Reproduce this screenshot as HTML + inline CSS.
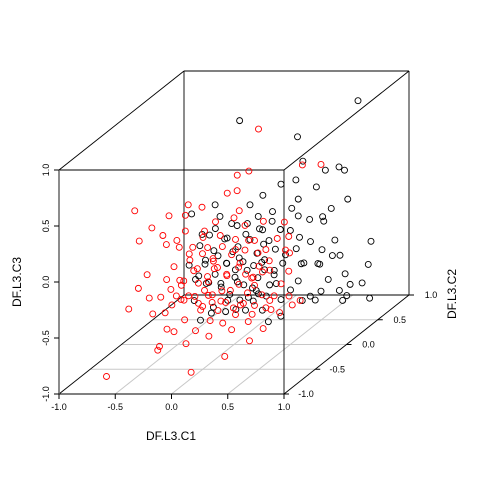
<!DOCTYPE html>
<html><head><meta charset="utf-8"><style>
html,body{margin:0;padding:0;background:#fff;}
svg text{font-family:"Liberation Sans",sans-serif;}
</style></head><body>
<svg id="chart" width="480" height="480" viewBox="0 0 480 480" xmlns="http://www.w3.org/2000/svg">
<g id="grid"></g>
<g id="box"></g>
<g id="axes"></g>
<g id="pts"></g>
<text x="171" y="440" font-size="12" text-anchor="middle">DF.L3.C1</text>
<text x="21" y="282" font-size="12" text-anchor="middle" transform="rotate(-90 21 282)">DF.L3.C3</text>
<text x="456" y="294" font-size="12" text-anchor="middle" transform="rotate(-90 456 294)">DF.L3.C2</text>
</svg>
<script>
const xTicks=[-1.0,-0.5,0.0,0.5,1.0];
const yTicks=[-1.0,-0.5,0.0,0.5,1.0];
const zTicks=[-1.0,-0.5,0.0,0.5,1.0];
const tickLabels=["-1.0","-0.5","0.0","0.5","1.0"];
const blackX=[0.88,-0.20,0.37,0.39,0.70,0.80,0.76,0.62,0.35,0.51,0.19,0.04,-0.08,-0.12,0.01,0.12,0.28,0.36,0.45,0.56,0.68,0.72,0.63,0.48,0.36,0.32,0.41,0.54,0.61,0.72,0.81,0.90,1.00,0.78,0.54,0.36,0.28,0.45,0.14,0.05,-0.04,-0.12,-0.21,-0.30,-0.39,-0.48,-0.57,-0.52,-0.44,-0.30,-0.17,-0.08,0.03,0.10,0.19,0.23,0.10,-0.01,-0.08,-0.17,-0.26,-0.35,-0.04,0.03,0.19,-0.57,-0.52,-0.44,-0.28,-0.12,0.20,0.29,0.56,0.76,0.39,0.50,0.01,-0.21,-0.39,-0.48,-0.61,0.05,0.14,-0.10,-0.17,-0.26,-0.33,-0.39,-0.61,0.36,0.59,
-0.45,-0.36,-0.25,-0.15,-0.05,0.06,0.15,-0.42,-0.32,-0.22,-0.12,-0.02,0.08,0.18,-0.48,-0.38,-0.28,-0.18,-0.08,0.02,0.12,0.22,-0.35,-0.25,-0.15,-0.05,0.05,0.15,0.25,0.32,0.44,0.52,0.66,0.86,0.94];
const blackZ=[1.00,0.80,0.70,0.46,0.40,0.13,0.38,0.02,0.31,0.23,0.25,0.16,0.07,-0.11,-0.02,0.01,0.03,-0.02,-0.06,-0.04,-0.24,-0.38,-0.40,-0.24,-0.22,-0.33,-0.44,-0.46,-0.60,-0.69,-0.64,-0.64,-0.75,-0.74,-0.71,-0.60,-0.69,-0.75,-0.55,-0.42,-0.38,-0.42,-0.51,-0.46,-0.33,-0.46,-0.60,-0.29,-0.20,-0.24,-0.29,-0.24,-0.29,-0.24,-0.15,-0.38,-0.64,-0.58,-0.69,-0.60,-0.73,-0.64,-0.78,-0.87,-0.78,-0.78,-0.96,-0.91,-0.87,-0.87,-0.46,-0.15,-0.33,-0.55,-0.78,-0.78,-0.17,-0.33,-0.55,-0.64,-0.46,-0.51,-0.33,-0.51,-0.78,-0.11,-0.02,0.07,-0.02,0.13,0.38,
-0.15,-0.12,-0.19,-0.08,-0.14,-0.10,-0.05,-0.38,-0.35,-0.40,-0.36,-0.45,-0.40,-0.48,-0.52,-0.57,-0.62,-0.55,-0.60,-0.66,-0.70,-0.58,-0.80,-0.76,-0.82,-0.72,-0.68,-0.92,-0.88,-0.50,-0.52,-0.12,-0.85,-0.55,-0.30];
const blackY=[0.4,0.45,0.35,0.4,0.42,0.38,0.4,0.44,0.36,0.4,0.41,0.39,0.4,0.43,0.37,0.4,0.42,0.38,0.4,0.41,0.39,0.4,0.44,0.36,0.4,0.42,0.38,0.4,0.41,0.39,0.4,0.43,0.37,0.4,0.42,0.38,0.4,0.41,0.39,0.4,0.44,0.36,0.4,0.42,0.38,0.4,0.41,0.39,0.4,0.43,0.37,0.4,0.42,0.38,0.4,0.41,0.39,0.4,0.44,0.36,0.4,0.42,0.38,0.4,0.41,0.39,0.4,0.43,0.37,0.4,0.42,0.38,0.4,0.41,0.39,0.4,0.44,0.36,0.4,0.42,0.38,0.4,0.41,0.39,0.4,0.43,0.37,0.4,0.42,0.38,0.4,
0.3,0.35,0.3,0.32,0.28,0.3,0.34,0.3,0.32,0.28,0.3,0.35,0.3,0.32,0.3,0.28,0.3,0.34,0.3,0.32,0.3,0.28,0.3,0.35,0.3,0.32,0.3,0.28,0.3,0.5,0.55,0.5,0.55,0.6,0.5];
const redX=[-0.66,-0.90,-0.17,-0.44,-0.45,-0.21,0.14,-0.20,-0.73,-0.39,-0.52,-0.35,-0.29,-0.12,-0.08,0.01,0.05,0.10,0.28,0.36,0.47,0.54,0.41,0.32,0.19,0.01,-0.12,-0.26,-0.30,-0.39,-0.41,-0.35,-0.19,-0.21,-0.04,0.14,0.25,0.28,0.24,0.44,0.36,0.99,0.83,0.50,0.59,0.68,0.72,0.63,0.81,0.45,0.23,0.10,0.01,-0.08,-0.17,0.05,0.19,0.32,0.41,0.50,0.54,0.28,0.14,-0.04,-0.17,-0.26,-0.33,-0.24,-0.10,0.03,0.17,0.32,0.47,0.59,0.70,0.74,0.41,0.23,0.08,-0.04,-0.39,-0.12,0.01,0.19,-0.21,-0.28,-0.15,-0.04,0.08,0.20,0.32,-0.30,0.54,0.36,0.12,0.26,0.38,-0.36,0.03,0.67,0.72,-0.44,
-0.28,-0.18,-0.08,0.02,0.12,0.22,0.32,0.42,-0.25,-0.15,-0.05,0.05,0.15,0.25,0.35,0.45,-0.32,-0.22,-0.12,-0.02,0.08,0.18,0.28,0.38,0.48,-0.55,-0.62,-0.48,0.60,0.66,-0.60,-0.50];
const redZ=[0.37,-1.10,-1.08,-0.84,-0.87,-0.82,-0.93,-0.59,-0.52,-0.54,-0.40,-0.34,-0.39,-0.39,-0.52,-0.61,-0.43,-0.65,-0.47,-0.61,-0.69,-0.43,-0.29,-0.20,-0.34,-0.25,-0.16,-0.25,-0.12,0.06,0.15,0.33,0.42,0.33,0.42,0.51,0.55,0.38,0.68,1.10,0.73,0.78,0.78,0.29,0.11,0.02,-0.16,-0.29,-0.43,-0.12,0.11,0.15,0.06,-0.03,-0.07,-0.07,-0.03,0.02,0.11,0.02,-0.16,-0.12,-0.21,-0.34,-0.38,-0.43,-0.47,-0.29,-0.28,-0.38,-0.43,-0.38,-0.38,-0.38,-0.40,-0.47,-0.47,-0.56,-0.52,-0.47,-0.70,-0.70,-0.74,-0.70,0.19,0.11,0.04,0.19,0.29,0.29,0.24,-0.70,-0.52,-0.79,-0.34,-0.29,-0.23,-0.23,-0.16,0.27,0.15,-0.41,
-0.30,-0.20,-0.27,-0.18,-0.24,-0.14,-0.28,-0.22,-0.45,-0.50,-0.42,-0.48,-0.55,-0.50,-0.58,-0.54,0.00,-0.05,0.08,-0.10,0.02,-0.02,0.05,-0.05,-0.12,-0.20,0.10,0.24,-0.56,-0.05,-0.30,-0.55];
const redY=[-0.4,-0.42,-0.38,-0.4,-0.41,-0.39,-0.4,-0.43,-0.37,-0.4,-0.42,-0.38,-0.4,-0.41,-0.39,-0.4,-0.44,-0.36,-0.4,-0.42,-0.38,-0.4,-0.41,-0.39,-0.4,-0.43,-0.37,-0.4,-0.42,-0.38,-0.4,-0.41,-0.39,-0.4,-0.44,-0.36,-0.4,-0.42,-0.38,-0.4,-0.41,-0.39,-0.4,-0.43,-0.37,-0.4,-0.42,-0.38,-0.4,-0.41,-0.39,-0.4,-0.44,-0.36,-0.4,-0.42,-0.38,-0.4,-0.41,-0.39,-0.4,-0.43,-0.37,-0.4,-0.42,-0.38,-0.4,-0.41,-0.39,-0.4,-0.44,-0.36,-0.4,-0.42,-0.38,-0.4,-0.41,-0.39,-0.4,-0.43,-0.37,-0.4,-0.42,-0.38,-0.4,-0.41,-0.39,-0.4,-0.44,-0.36,-0.4,-0.42,-0.38,-0.4,-0.41,-0.39,-0.4,-0.43,-0.37,-0.4,-0.42,-0.38,
-0.3,-0.32,-0.28,-0.3,-0.33,-0.3,-0.27,-0.3,-0.35,-0.3,-0.32,-0.3,-0.28,-0.3,-0.34,-0.3,-0.3,-0.32,-0.28,-0.3,-0.33,-0.3,-0.27,-0.3,-0.3,-0.4,-0.4,-0.45,-0.35,-0.3,-0.45,-0.4];

const NS="http://www.w3.org/2000/svg";
const X0=59,Y0=394,XW=225,ZH=224,DX=125,DY=99;
function px(x,y){return X0+(x+1)/2*XW+(y+1)/2*DX;}
function py(y,z){return Y0-(z+1)/2*ZH-(y+1)/2*DY;}
function mk(tag,attrs,parent){const e=document.createElementNS(NS,tag);for(const k in attrs)e.setAttribute(k,attrs[k]);parent.appendChild(e);return e;}
const grid=document.getElementById('grid'),box=document.getElementById('box'),axes=document.getElementById('axes'),pts=document.getElementById('pts');

[-0.5,0,0.5].forEach(v=>{
  const l1=mk('line',{x1:px(v,-1),y1:py(-1,-1),x2:px(v,1),y2:py(1,-1),stroke:'#c8c8c8','stroke-width':1},grid);
  
  
  const l2=mk('line',{x1:px(-1,v),y1:py(v,-1),x2:px(1,v),y2:py(v,-1),stroke:'#c8c8c8','stroke-width':1},grid);
  
  
});

const edges=[[-1,-1,-1,1,-1,-1],[-1,-1,-1,-1,-1,1],[1,-1,-1,1,-1,1],[-1,-1,1,1,-1,1],
[-1,1,1,1,1,1],[1,1,-1,1,1,1],[-1,1,-1,1,1,-1],[-1,1,-1,-1,1,1],
[-1,-1,1,-1,1,1],[1,-1,1,1,1,1],[1,-1,-1,1,1,-1],[-1,-1,-1,-1,1,-1]];
edges.forEach(e=>{
  const l=mk('line',{x1:px(e[0],e[1]),y1:py(e[1],e[2]),x2:px(e[3],e[4]),y2:py(e[4],e[5]),stroke:'#000','stroke-width':0.9},box);
  
  
});
mk('line',{x1:X0,y1:py(-1,-1),x2:X0,y2:py(-1,1),stroke:'#666','stroke-width':1.5},axes);

xTicks.forEach((v,i)=>{
  const x=px(v,-1),y=py(-1,-1);
  mk('line',{x1:x,y1:y,x2:x,y2:y+5,stroke:'#000'},axes);
  const t=mk('text',{x:x,y:y+16,'font-size':9,'text-anchor':'middle'},axes);t.textContent=tickLabels[i];
  
  
});
zTicks.forEach((v,i)=>{
  const y=py(-1,v);
  mk('line',{x1:X0,y1:y,x2:X0-5,y2:y,stroke:'#000'},axes);
  const t=mk('text',{x:49,y:y,'font-size':9,'text-anchor':'middle',transform:'rotate(-90 49 '+y+')'},axes);t.textContent=tickLabels[i];
  
  
});
yTicks.forEach((v,i)=>{
  const x=px(1,v),y=py(v,-1);
  mk('line',{x1:x,y1:y,x2:x+5,y2:y,stroke:'#000'},axes);
  const t=mk('text',{x:x+22,y:y+3,'font-size':9,'text-anchor':'middle'},axes);t.textContent=tickLabels[i];
  
  
});

function drawSeries(xs,ys,zs,col,name){
  for(let i=0;i<xs.length;i++){
    const c=mk('circle',{cx:px(xs[i],ys[i]),cy:py(ys[i],zs[i]),r:3,fill:'none',stroke:col,'stroke-width':0.9},pts);
    
    
  }
}
drawSeries(blackX,blackY,blackZ,'#000','point-black');
drawSeries(redX,redY,redZ,'#ff0000','point-red');
</script>
</body></html>
